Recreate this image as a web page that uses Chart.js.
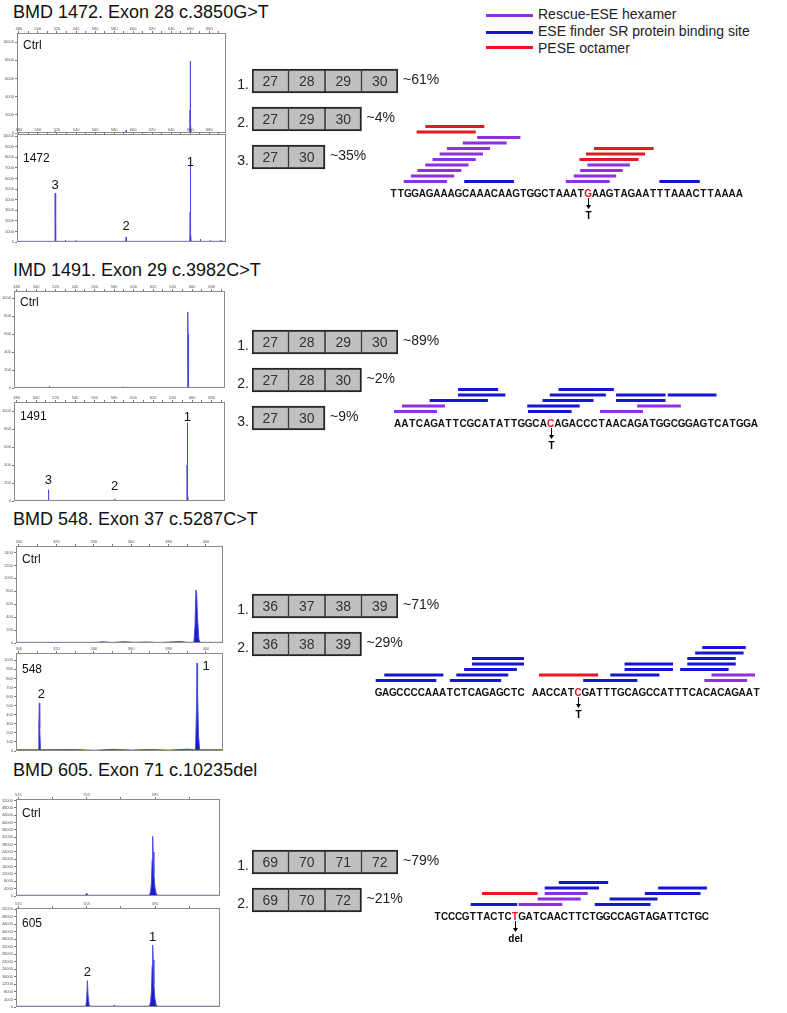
<!DOCTYPE html>
<html>
<head>
<meta charset="utf-8">
<script src="https://cdn.jsdelivr.net/npm/chart.js@4.4.1/dist/chart.umd.min.js"></script>
<style>
body { margin: 0; background: #fff; width: 787px; height: 1013px; position: relative; overflow: hidden; font-family: "Liberation Sans", Arial, sans-serif; }
canvas { position: absolute; }
.title { position: absolute; left: 13px; font-size: 18px; line-height: 1; color: #111; white-space: nowrap; }
.lgline { position: absolute; left: 486px; width: 47px; height: 3px; }
.lgtext { position: absolute; left: 538px; font-size: 14px; line-height: 1; color: #222; white-space: nowrap; }
</style>
</head>
<body>
<div class="title" style="top:3px">BMD 1472. Exon 28 c.3850G&gt;T</div>
<div class="title" style="top:261px">IMD 1491. Exon 29 c.3982C&gt;T</div>
<div class="title" style="top:510px">BMD 548. Exon 37 c.5287C&gt;T</div>
<div class="title" style="top:761px">BMD 605. Exon 71 c.10235del</div>

<div class="lgline" style="top:13.5px;background:#8f2fe3"></div>
<div class="lgtext" style="top:7px">Rescue-ESE hexamer</div>
<div class="lgline" style="top:30.5px;background:#1616d2"></div>
<div class="lgtext" style="top:24px">ESE finder SR protein binding site</div>
<div class="lgline" style="top:45.5px;background:#e8181e"></div>
<div class="lgtext" style="top:41px">PESE octamer</div>

<script>
// ---------------- data ----------------

// panel 1 : BMD 1472
const p1Names = ['Ctrl', '1472'];
const p1XMajor = [480, 500, 520, 540, 560, 580, 600, 620, 640, 660, 680];
const p1XMinor = [490, 510, 530, 550, 570, 590, 610, 630, 650, 670, 690];
const p1CtrlY = [0, 2000, 4000, 6000, 8000, 10000];
const p1PatY = [0, 1000, 2000, 3000, 4000, 5000, 6000, 7000, 8000, 9000, 10000];
const p1CtrlTrace = [[478,50],[517.7,50],[518,140],[518.3,50],[592.3,50],[592.6,280],[592.9,50],[659.4,50],[659.7,2500],[659.9,7900],[660.1,6000],[660.4,1200],[660.8,50],[697.5,50]];
const p1PatTrace = [[478,60],[517.6,60],[517.9,3300],[518.1,4600],[518.4,1500],[518.8,60],[528.5,60],[528.8,180],[529.1,60],[539.7,60],[540,120],[540.3,60],[551.7,60],[552,80],[552.3,60],[592.2,60],[592.6,470],[593,60],[659.5,60],[659.8,2800],[660,7200],[660.2,5600],[660.5,900],[660.9,60],[670.2,60],[670.5,280],[670.8,60],[680.7,60],[681,150],[681.3,60],[691.7,60],[692,180],[692.3,60],[697.5,60]];
const p1Peaks = [['3', 518, 4600], ['2', 592.6, 470], ['1', 660, 7200]];
const p1Exons = [['27', '28', '29', '30'], ['27', '29', '30'], ['27', '30']];
const p1Pct = ['~61%', '~4%', '~35%'];
const p1Seq = 'TTGGAGAAAGCAAACAAGTGGCTAAATGAAGTAGAATTTAAACTTAAAA';
const p1Mut = 27;
const p1Change = 'T';
// [start, end, level] in nucleotide units
const p1Rescue = [[1.9,7.9,0],[2.9,8.9,1],[3.8,9.9,2],[4.9,10.9,3],[5.9,11.9,4],[6.9,12.9,5],[7.9,13.9,6],[10.1,16.2,7],[12.1,18.1,8],[24.4,30.5,0],[25.5,31.4,1],[26.4,32.3,2],[27.4,33.3,3]];
const p1EseFinder = [[10.3,17.2,0],[37.4,43.0,0]];
const p1Pese = [[3.7,11.9,9],[4.9,13.1,10],[26.3,34.5,4],[27.2,35.4,5],[28.3,36.6,6]];

// panel 2 : IMD 1491
const p2Names = ['Ctrl', '1491'];
const p2XMajor = [480, 500, 520, 540, 560, 580, 600, 620, 640, 660, 680];
const p2XMinor = [490, 510, 530, 550, 570, 590, 610, 630, 650, 670, 690];
const p2CtrlY = [0, 200, 400, 600, 800, 1000];
const p2PatY = [0, 200, 400, 600, 800, 1000];
const p2CtrlTrace = [[477.3,6],[513.3,6],[513.6,20],[513.9,6],[588.7,6],[589,14],[589.3,6],[655.1,6],[655.4,400],[655.6,844],[655.8,600],[656.1,80],[656.5,6],[693.7,6]];
const p2PatTrace = [[477.3,6],[512.3,6],[512.6,125],[512.9,6],[580.2,6],[580.5,24],[580.8,6],[654.6,6],[654.8,400],[655,870],[655.2,620],[655.5,80],[655.9,6],[693.7,6]];
const p2Peaks = [['1', 655, 870], ['3', 512.6, 125], ['2', 580.5, 24]];
const p2Exons = [['27', '28', '29', '30'], ['27', '28', '30'], ['27', '30']];
const p2Pct = ['~89%', '~2%', '~9%'];
const p2Seq = 'AATCAGATTCGCATATTGGCACAGACCCTAACAGATGGCGGAGTCATGGA';
const p2Mut = 21;
const p2Change = 'T';
const p2Rescue = [[0.0,5.9,0],[28.3,34.2,0],[1.1,7.0,1],[33.4,39.4,1]];
const p2EseFinder = [[18.4,24.4,0],[18.3,25.5,1],[4.9,12.9,2],[20.4,27.4,2],[30.5,37.3,2],[8.8,15.3,3],[21.4,29.1,3],[30.5,37.3,3],[37.6,44.3,3],[8.8,14.3,4],[22.6,30.2,4]];
const p2Pese = [];

// panel 3 : BMD 548
const p3Names = ['Ctrl', '548'];
const p3XMajor = [300, 320, 340, 360, 380, 400];
const p3XMinor = [310, 330, 350, 370, 390];
const p3CtrlY = [0, 200, 400, 600, 800, 1000, 1200, 1400];
const p3PatY = [0, 100, 200, 300, 400, 500, 600, 700, 800, 900, 1000];
const p3CtrlTrace = [[298.4,10],[340,10],[345,18],[350,8],[356,20],[362,10],[368,16],[374,8],[380,14],[386,22],[390,10],[393.5,10],[394.1,250],[394.6,820],[395,780],[395.5,380],[396.2,60],[396.8,10],[409.1,10]];
const p3PatTrace = [[298.4,14],[310.3,14],[310.6,300],[310.9,530],[311.1,250],[311.5,14],[330,16],[340,8],[350,18],[360,10],[370,16],[380,10],[390,20],[394.4,14],[394.9,450],[395.2,970],[395.5,650],[396,180],[396.6,14],[409.1,14]];
const p3Peaks = [['1', 395.2, 970], ['2', 310.9, 530]];
const p3Exons = [['36', '37', '38', '39'], ['36', '38', '39']];
const p3Pct = ['~71%', '~29%'];
const p3Seq = 'GAGCCCCAAATCTCAGAGCTC AACCATCGATTTGCAGCCATTTCACACAGAAT';
const p3Mut = 28;
const p3Change = 'T';
const p3Rescue = [[46.2,52.2,0],[47.2,53.3,1]];
const p3EseFinder = [[0.1,8.6,0],[10.5,17.7,0],[29.2,36.8,0],[1.3,9.6,1],[11.4,18.7,1],[33.0,39.9,1],[12.5,19.9,2],[35.0,41.8,2],[42.8,49.6,2],[13.6,20.9,3],[35.0,41.8,3],[43.8,50.6,3],[13.6,20.9,4],[43.8,50.6,4],[44.9,51.7,5],[45.9,52.0,6]];
const p3Pese = [[23.0,31.3,1]];

// panel 4 : BMD 605
const p4Names = ['Ctrl', '605'];
const p4XMajor = [515, 555, 595];
const p4XMinor = [535, 575, 615];
const p4CtrlY = [0, 4000, 8000, 12000, 16000, 20000, 24000, 28000, 32000, 36000, 40000, 44000, 48000, 52000];
const p4PatY = [0, 4000, 8000, 12000, 16000, 20000, 24000, 28000, 32000, 36000, 40000, 44000, 48000, 52000];
const p4CtrlTrace = [[513.6,400],[554.2,400],[555,1500],[555.8,400],[591.7,400],[592.4,2500],[592.9,8000],[593.3,20000],[593.6,32500],[593.9,24000],[594.3,12000],[594.9,5000],[595.6,1500],[596.4,400],[633,400]];
const p4PatTrace = [[513.6,400],[554.5,400],[555,5000],[555.4,14000],[555.8,6000],[556.4,1200],[557,400],[570.4,400],[571.2,900],[572,400],[591.7,400],[592.4,3000],[592.9,9000],[593.3,22000],[593.6,32800],[593.9,25000],[594.3,12000],[594.9,4500],[595.6,1200],[596.4,400],[633,400]];
const p4Peaks = [['1', 593.6, 32800], ['2', 555.4, 14000]];
const p4Exons = [['69', '70', '71', '72'], ['69', '70', '72']];
const p4Pct = ['~79%', '~21%'];
const p4Seq = 'TCCCGTTACTCTGATCAACTTCTGGCCAGTAGATTCTGC';
const p4Mut = 11;
const p4Change = 'del';
const p4Rescue = [[12.0,18.2,0],[14.7,20.8,1],[15.7,21.8,2]];
const p4EseFinder = [[5.2,11.8,0],[22.8,30.7,0],[24.9,31.7,1],[29.9,37.8,2],[15.7,23.4,3],[31.8,38.7,3],[17.7,24.7,4]];
const p4Pese = [[6.8,14.7,2]];

// ---------------- drawing ----------------
const FONT = '"Liberation Sans", Arial, sans-serif';
const PURPLE = '#8f2fe3', BLUE = '#1616d2', RED = '#e8181e';

Chart.defaults.font.family = FONT;
Chart.defaults.animation = false;
Chart.defaults.responsive = false;
Chart.defaults.plugins.legend.display = false;
Chart.defaults.plugins.tooltip.enabled = false;

function place(left, top, w, h) {
    const c = document.createElement('canvas');
    c.width = Math.round(w);
    c.height = Math.round(h);
    c.style.left = Math.round(left) + 'px';
    c.style.top = Math.round(top) + 'px';
    document.body.appendChild(c);
    return c;
}

// keep the plot area exactly where the frame is
function noPad(s) {
    s.paddingTop = 0;
    s.paddingBottom = 0;
}

const frame = {
    id: 'frame',
    afterDraw(chart) {
        const a = chart.chartArea, ctx = chart.ctx;
        ctx.save();
        ctx.strokeStyle = '#8a8a8a';
        ctx.lineWidth = 1;
        ctx.strokeRect(a.left + 0.5, a.top + 0.5, a.width - 1, a.height - 1);
        ctx.restore();
    }
};

// electropherogram: box = plot frame on the page
function trace(box, xr, yTicks, yMax, points, name, nameBase, peaks, peakOff) {
    const AXH = 8;
    const cv = place(0, box.y - AXH, box.x + box.w + 3, box.h + AXH + 3);
    const xMajor = xr.major;
    new Chart(cv, {
        type: 'line',
        data: {
            datasets: [{
                data: points.map(p => ({ x: p[0], y: p[1] })),
                borderColor: 'rgba(70,70,225,0.9)',
                borderWidth: 1,
                backgroundColor: '#1c1cc6',
                fill: 'origin',
                pointRadius: 0,
                tension: 0
            }]
        },
        options: {
            layout: { padding: { right: 3, bottom: 3 } },
            scales: {
                x: {
                    type: 'linear', position: 'top', min: xr.min, max: xr.max,
                    afterBuildTicks: s => { s.ticks = xr.major.concat(xr.minor).sort((a, b) => a - b).map(v => ({ value: v })); },
                    afterFit: s => { s.height = AXH; },
                    grid: { drawOnChartArea: false, tickLength: 2, color: '#777' },
                    border: { display: false },
                    ticks: { font: { size: 4 }, color: '#555', padding: 0, maxRotation: 0, autoSkip: false,
                             callback: v => xMajor.includes(v) ? String(v) : '' }
                },
                y: {
                    type: 'linear', min: 0, max: yMax,
                    afterBuildTicks: s => { s.ticks = yTicks.map(v => ({ value: v })); },
                    afterFit: s => { s.width = box.x; noPad(s); },
                    grid: { drawOnChartArea: false, tickLength: 2, color: '#777' },
                    border: { display: false },
                    ticks: { font: { size: 4 }, color: '#555', padding: 1, autoSkip: false, callback: v => String(v) }
                }
            }
        },
        plugins: [frame, {
            id: 'tags',
            afterDraw(chart) {
                const ctx = chart.ctx, a = chart.chartArea, sx = chart.scales.x, sy = chart.scales.y;
                ctx.save();
                ctx.fillStyle = '#111';
                ctx.font = '12px ' + FONT;
                ctx.textAlign = 'left';
                ctx.textBaseline = 'alphabetic';
                ctx.fillText(name, a.left + 6, a.top + nameBase);
                ctx.font = '13px ' + FONT;
                ctx.textAlign = 'center';
                peaks.forEach((p, i) => {
                    const off = peakOff[i] || [0, 3];
                    ctx.fillText(p[0], sx.getPixelForValue(p[1]) + off[0], sy.getPixelForValue(p[2]) - off[1]);
                });
                ctx.restore();
            }
        }]
    });
}

// exon structure boxes
function exonChart(left, firstCenter, exons, pct) {
    const AXW = 24, PITCH = 38, CELL = 36.4, EXTRA = 50;
    const cv = place(left - AXW, firstCenter - PITCH / 2, AXW + CELL * 4 + EXTRA, PITCH * exons.length);
    const cols = Math.max(...exons.map(r => r.length));
    const datasets = [];
    for (let k = 0; k < cols; k++) {
        datasets.push({
            data: exons.map(r => r[k] ? 1 : null),
            backgroundColor: '#c0c0c0',
            borderColor: '#262626',
            borderSkipped: false,
            borderWidth: ctx => ({ top: 2, bottom: 2, left: k === 0 ? 2 : 1,
                                   right: k === exons[ctx.dataIndex].length - 1 ? 2 : 1 }),
            barThickness: 24
        });
    }
    new Chart(cv, {
        type: 'bar',
        data: { labels: exons.map((r, i) => (i + 1) + '.'), datasets: datasets },
        options: {
            indexAxis: 'y',
            layout: { padding: { right: EXTRA } },
            scales: {
                x: { min: 0, max: 4, stacked: true, display: false },
                y: { stacked: true, afterFit: s => { s.width = AXW; noPad(s); },
                     grid: { display: false, drawTicks: false }, border: { display: false },
                     ticks: { font: { size: 14 }, color: '#222', padding: 3, labelOffset: 4 } }
            }
        },
        plugins: [{
            id: 'exonText',
            afterDatasetsDraw(chart) {
                const ctx = chart.ctx;
                ctx.save();
                ctx.font = '14px ' + FONT;
                ctx.textBaseline = 'middle';
                chart.data.datasets.forEach((ds, k) => {
                    chart.getDatasetMeta(k).data.forEach((bar, r) => {
                        if (!exons[r][k]) return;
                        ctx.fillStyle = '#333';
                        ctx.textAlign = 'center';
                        ctx.fillText(exons[r][k], (bar.x + bar.base) / 2, bar.y + 1);
                        if (k === exons[r].length - 1) {
                            ctx.fillStyle = '#222';
                            ctx.textAlign = 'left';
                            ctx.fillText(pct[r], bar.x + 5, bar.y - 1);
                        }
                    });
                });
                ctx.restore();
            }
        }]
    });
}

// ESE map over the sequence; letters are the x axis ticks
function eseChart(seqLeft, level0Y, pitch, seq, mut, change, rescue, eseFinder, pese) {
    const PAD = 8, AREA_H = 66, AXH = 14, BOTTOM = 30, YMIN = -0.8, YMAX = 11.2;
    const n = seq.length;
    const cv = place(seqLeft - PAD, level0Y - AREA_H * YMAX / (YMAX - YMIN), n * pitch + 2 * PAD, AREA_H + AXH + BOTTOM);
    const toBars = list => list.map(b => ({ x: [b[0], b[1]], y: b[2] }));
    const ds = (list, color) => ({ data: toBars(list), backgroundColor: color, borderWidth: 0, barThickness: 3, grouped: false, inflateAmount: 0 });
    new Chart(cv, {
        type: 'bar',
        data: { datasets: [ds(eseFinder, BLUE), ds(rescue, PURPLE), ds(pese, RED)] },
        options: {
            indexAxis: 'y',
            layout: { padding: { left: PAD, right: PAD, bottom: BOTTOM } },
            scales: {
                y: { type: 'linear', min: YMIN, max: YMAX, offset: false, display: false, afterFit: noPad },
                x: {
                    type: 'linear', min: 0, max: n, offset: false,
                    afterBuildTicks: s => { s.ticks = seq.split('').map((c, i) => ({ value: i + 0.5 })); },
                    afterFit: s => { s.height = AXH; },
                    grid: { display: false, drawTicks: false },
                    border: { display: false },
                    ticks: { autoSkip: false, maxRotation: 0, minRotation: 0, padding: 2,
                             font: { size: 10, weight: 'bold' },
                             color: c => c.index === mut ? RED : '#111',
                             callback: (v, i) => seq[i] }
                }
            }
        },
        plugins: [{
            id: 'mutation',
            afterDraw(chart) {
                const ctx = chart.ctx, a = chart.chartArea;
                const px = Math.round(chart.scales.x.getPixelForValue(mut + 0.5)) + 0.5;
                ctx.save();
                ctx.strokeStyle = '#000';
                ctx.fillStyle = '#000';
                ctx.lineWidth = 1;
                ctx.beginPath();
                ctx.moveTo(px, a.bottom + 12);
                ctx.lineTo(px, a.bottom + 20);
                ctx.stroke();
                ctx.beginPath();
                ctx.moveTo(px - 2.5, a.bottom + 19);
                ctx.lineTo(px + 2.5, a.bottom + 19);
                ctx.lineTo(px, a.bottom + 23);
                ctx.closePath();
                ctx.fill();
                ctx.font = 'bold 10px ' + FONT;
                ctx.textAlign = 'center';
                ctx.textBaseline = 'middle';
                ctx.fillText(change, px, a.bottom + 30);
                ctx.restore();
            }
        }]
    });
}

// ---------------- layout ----------------
// panel 1
trace({ x: 17, y: 33, w: 209, h: 100 }, { min: 478, max: 697.5, major: p1XMajor, minor: p1XMinor }, p1CtrlY, 11000, p1CtrlTrace, p1Names[0], 15.5, [], []);
trace({ x: 17, y: 134, w: 209, h: 108 }, { min: 478, max: 697.5, major: p1XMajor, minor: p1XMinor }, p1PatY, 10200, p1PatTrace, p1Names[1], 28, p1Peaks, [[0, 4], [0, 7], [0, 0]]);
exonChart(252, 81, p1Exons, p1Pct);
eseChart(390, 181.7, 7.2, p1Seq, p1Mut, p1Change, p1Rescue, p1EseFinder, p1Pese);

// panel 2
trace({ x: 14, y: 291, w: 211, h: 97 }, { min: 477.3, max: 693.7, major: p2XMajor, minor: p2XMinor }, p2CtrlY, 1078, p2CtrlTrace, p2Names[0], 15, [], []);
trace({ x: 14, y: 402, w: 211, h: 99 }, { min: 477.3, max: 693.7, major: p2XMajor, minor: p2XMinor }, p2PatY, 1100, p2PatTrace, p2Names[1], 18, p2Peaks, [[0, 2], [0, 6], [0, 9]]);
exonChart(252, 342, p2Exons, p2Pct);
eseChart(394, 411.7, 7.28, p2Seq, p2Mut, p2Change, p2Rescue, p2EseFinder, p2Pese);

// panel 3
trace({ x: 16, y: 546, w: 207, h: 97 }, { min: 298.4, max: 409.1, major: p3XMajor, minor: p3XMinor }, p3CtrlY, 1500, p3CtrlTrace, p3Names[0], 16.5, [], []);
trace({ x: 16, y: 653, w: 207, h: 98 }, { min: 298.4, max: 409.1, major: p3XMajor, minor: p3XMinor }, p3PatY, 1080, p3PatTrace, p3Names[1], 20, p3Peaks, [[9, -7], [2, 5]]);
exonChart(252, 606, p3Exons, p3Pct);
eseChart(375, 681, 7.13, p3Seq, p3Mut, p3Change, p3Rescue, p3EseFinder, p3Pese);

// panel 4
trace({ x: 16, y: 799, w: 204, h: 97 }, { min: 513.6, max: 633, major: p4XMajor, minor: p4XMinor }, p4CtrlY, 52900, p4CtrlTrace, p4Names[0], 18, [], []);
trace({ x: 16, y: 908, w: 204, h: 99 }, { min: 513.6, max: 633, major: p4XMajor, minor: p4XMinor }, p4PatY, 52540, p4PatTrace, p4Names[1], 19, p4Peaks, [[0, 4], [0, 5]]);
exonChart(252, 861.5, p4Exons, p4Pct);
eseChart(434, 904.5, 7.06, p4Seq, p4Mut, p4Change, p4Rescue, p4EseFinder, p4Pese);
</script>
</body>
</html>
